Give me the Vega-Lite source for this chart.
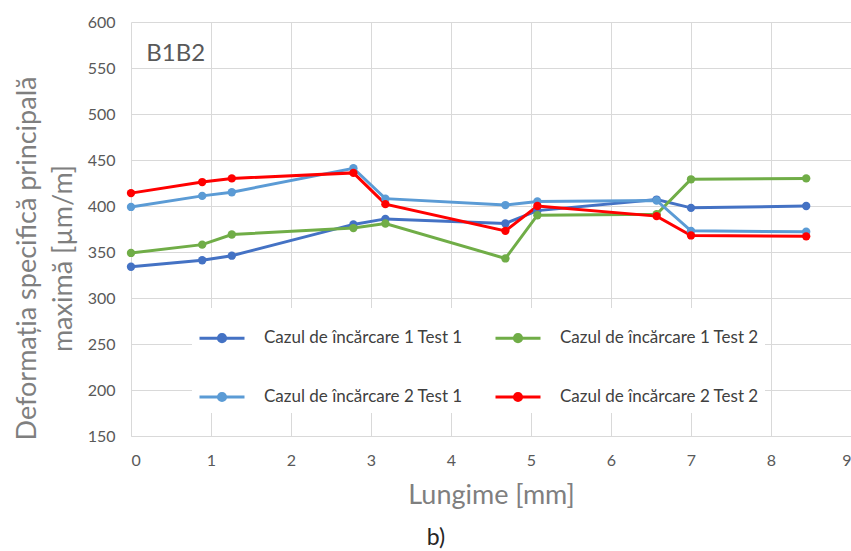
{
  "$schema": "https://vega.github.io/schema/vega-lite/v6.json",
  "autosize": {"type": "none"},
  "padding": {"left": 131, "top": 22, "right": 0, "bottom": 115},
  "width": 720,
  "height": 414,
  "background": "white",
  "title": {"text": "b)", "orient": "bottom", "anchor": "middle", "dx": -55, "offset": 19, "fontSize": 23, "fontWeight": "normal", "font": "Lato", "color": "#262626"},
  "config": {
    "view": {"stroke": null},
    "font": "Lato",
    "axis": {"gridColor": "#D9D9D9", "gridWidth": 1, "domainColor": "#D9D9D9", "ticks": false, "labelColor": "#595959", "labelFontSize": 16, "labelFont": "Lato", "titleColor": "#7F7F7F", "titleFont": "Lato", "titleFontWeight": "normal"}
  },
  "data": {"values": [
    {"series": "Cazul de încărcare 1 Test 1", "x": 0, "y": 334},
    {"series": "Cazul de încărcare 1 Test 1", "x": 0.89, "y": 341},
    {"series": "Cazul de încărcare 1 Test 1", "x": 1.26, "y": 346},
    {"series": "Cazul de încărcare 1 Test 1", "x": 2.78, "y": 380},
    {"series": "Cazul de încărcare 1 Test 1", "x": 3.18, "y": 386},
    {"series": "Cazul de încărcare 1 Test 1", "x": 4.68, "y": 381},
    {"series": "Cazul de încărcare 1 Test 1", "x": 5.08, "y": 395},
    {"series": "Cazul de încărcare 1 Test 1", "x": 6.57, "y": 407},
    {"series": "Cazul de încărcare 1 Test 1", "x": 7.0, "y": 398},
    {"series": "Cazul de încărcare 1 Test 1", "x": 8.44, "y": 400},
    {"series": "Cazul de încărcare 1 Test 2", "x": 0, "y": 349},
    {"series": "Cazul de încărcare 1 Test 2", "x": 0.89, "y": 358},
    {"series": "Cazul de încărcare 1 Test 2", "x": 1.26, "y": 369},
    {"series": "Cazul de încărcare 1 Test 2", "x": 2.78, "y": 376},
    {"series": "Cazul de încărcare 1 Test 2", "x": 3.18, "y": 381},
    {"series": "Cazul de încărcare 1 Test 2", "x": 4.68, "y": 343},
    {"series": "Cazul de încărcare 1 Test 2", "x": 5.08, "y": 390},
    {"series": "Cazul de încărcare 1 Test 2", "x": 6.57, "y": 391},
    {"series": "Cazul de încărcare 1 Test 2", "x": 7.0, "y": 429},
    {"series": "Cazul de încărcare 1 Test 2", "x": 8.44, "y": 430},
    {"series": "Cazul de încărcare 2 Test 1", "x": 0, "y": 399},
    {"series": "Cazul de încărcare 2 Test 1", "x": 0.89, "y": 411},
    {"series": "Cazul de încărcare 2 Test 1", "x": 1.26, "y": 415},
    {"series": "Cazul de încărcare 2 Test 1", "x": 2.78, "y": 441},
    {"series": "Cazul de încărcare 2 Test 1", "x": 3.18, "y": 408},
    {"series": "Cazul de încărcare 2 Test 1", "x": 4.68, "y": 401},
    {"series": "Cazul de încărcare 2 Test 1", "x": 5.08, "y": 405},
    {"series": "Cazul de încărcare 2 Test 1", "x": 6.57, "y": 406},
    {"series": "Cazul de încărcare 2 Test 1", "x": 7.0, "y": 373},
    {"series": "Cazul de încărcare 2 Test 1", "x": 8.44, "y": 372},
    {"series": "Cazul de încărcare 2 Test 2", "x": 0, "y": 414},
    {"series": "Cazul de încărcare 2 Test 2", "x": 0.89, "y": 426},
    {"series": "Cazul de încărcare 2 Test 2", "x": 1.26, "y": 430},
    {"series": "Cazul de încărcare 2 Test 2", "x": 2.78, "y": 436},
    {"series": "Cazul de încărcare 2 Test 2", "x": 3.18, "y": 402},
    {"series": "Cazul de încărcare 2 Test 2", "x": 4.68, "y": 373},
    {"series": "Cazul de încărcare 2 Test 2", "x": 5.08, "y": 400},
    {"series": "Cazul de încărcare 2 Test 2", "x": 6.57, "y": 389},
    {"series": "Cazul de încărcare 2 Test 2", "x": 7.0, "y": 368},
    {"series": "Cazul de încărcare 2 Test 2", "x": 8.44, "y": 367}
  ]},
  "layer": [
    {
      "mark": {"type": "line", "strokeWidth": 3, "point": {"filled": true, "size": 70}},
      "encoding": {
        "x": {"field": "x", "type": "quantitative", "scale": {"domain": [0, 9], "nice": false, "zero": false},
              "axis": {"values": [0,1,2,3,4,5,6,7,8,9], "format": "d", "labelPadding": 16, "title": "Lungime [mm]", "titleFontSize": 27, "titlePadding": 14}},
        "y": {"field": "y", "type": "quantitative", "scale": {"domain": [150, 600], "nice": false, "zero": false},
              "axis": {"values": [150,200,250,300,350,400,450,500,550,600], "labelPadding": 16, "domain": false,
                       "title": ["Deformația specifică principală", "maximă  [µm/m]"], "titleFontSize": 27, "titleLineHeight": 36, "titleX": -96, "titleY": 236, "titleAngle": -90, "titleAlign": "center", "titleBaseline": "alphabetic"}},
        "color": {"field": "series", "type": "nominal",
                  "scale": {"domain": ["Cazul de încărcare 1 Test 1", "Cazul de încărcare 1 Test 2", "Cazul de încărcare 2 Test 1", "Cazul de încărcare 2 Test 2"], "range": ["#4472C4", "#70AD47", "#5B9BD5", "#FF0000"]},
                  "legend": {"title": null, "orient": "none", "legendX": 61, "legendY": 286, "columns": 2, "direction": "horizontal",
                             "fillColor": "white", "padding": 6, "rowPadding": 25, "columnPadding": 26,
                             "symbolType": "M-1,0L1,0M-0.16,0A0.16,0.16,0,1,1,0.16,0A0.16,0.16,0,1,1,-0.16,0Z", "symbolSize": 2025, "symbolStrokeWidth": 3,
                             "labelFont": "Lato", "labelFontSize": 17, "labelColor": "#404040", "labelOffset": 18, "labelLimit": 400,
                             "encode": {"symbols": {"update": {"fill": {"scale": "color", "field": "value"}, "stroke": {"scale": "color", "field": "value"}}}}}}
      }
    },
    {
      "data": {"values": [{"label": "B1B2"}]},
      "mark": {"type": "text", "align": "left", "baseline": "middle", "fontSize": 24, "font": "Lato", "color": "#595959"},
      "encoding": {"x": {"datum": 0.19}, "y": {"datum": 565}, "text": {"field": "label"}}
    }
  ]
}
